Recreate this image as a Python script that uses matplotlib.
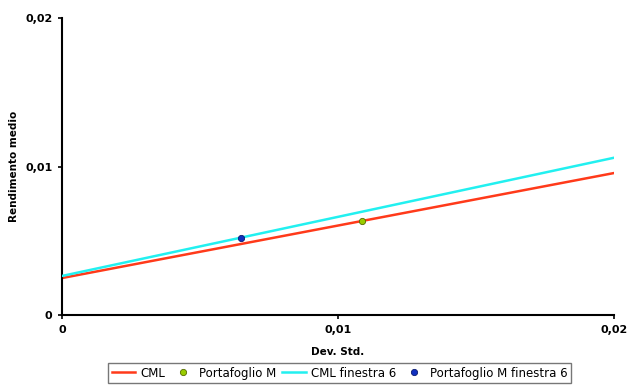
import matplotlib
matplotlib.use("Agg")
import matplotlib.pyplot as plt

# Capital market lines (std dev -> mean return)
cml_x = [0.0, 0.02]
cml_y = [0.00249, 0.00956]
cml6_x = [0.0, 0.02]
cml6_y = [0.00263, 0.01059]

# Tangency portfolios
pm_x, pm_y = [0.01087], [0.00632]
pm6_x, pm6_y = [0.0065], [0.00521]

ticks = [0.0, 0.01, 0.02]
tick_labels = ["0", "0,01", "0,02"]

plt.rcParams['font.family'] = ['DejaVu Sans']
fig = plt.figure(figsize=(6.27, 3.87), dpi=100)
ax = fig.add_axes([0.0989, 0.186, 0.8804, 0.7675])

ax.plot(cml_x, cml_y, color='#ff3a1a', lw=1.8, label='CML', zorder=2)
ax.plot(pm_x, pm_y, 'o', color='#99cc00', mec='#556b00', mew=0.6, ms=4.5,
        label='Portafoglio M', zorder=4)
ax.plot(cml6_x, cml6_y, color='#22f0f0', lw=1.8, label='CML finestra 6', zorder=3)
ax.plot(pm6_x, pm6_y, 'o', color='#1030c0', mec='#0a1a70', mew=0.6, ms=4.5,
        label='Portafoglio M finestra 6', zorder=5)

ax.set_xlim(0, 0.02)
ax.set_ylim(0, 0.02)
ax.set_xticks(ticks)
ax.set_yticks(ticks)
ax.set_xticklabels(tick_labels, fontsize=8, fontweight='bold')
ax.set_yticklabels(tick_labels, fontsize=8, fontweight='bold')
ax.tick_params(direction='out', length=3, width=1.2, pad=4)

for s in ['top', 'right']:
    ax.spines[s].set_visible(False)
for s in ['left', 'bottom']:
    ax.spines[s].set_linewidth(1.5)

ax.set_xlabel('Dev. Std.', fontsize=7.5, fontweight='bold')
ax.xaxis.set_label_coords(0.5, -0.107)
ax.set_ylabel('Rendimento medio', fontsize=7.5, fontweight='bold')
ax.yaxis.set_label_coords(-0.078, 0.5)

leg = fig.legend(loc='center', bbox_to_anchor=(0.542, 0.036), ncol=4,
                 fontsize=8.5, frameon=True, fancybox=False, handlelength=2.0,
                 handletextpad=0.4, columnspacing=0.5, borderpad=0.3,
                 borderaxespad=0.2, edgecolor='#555555')
leg.get_frame().set_linewidth(1.0)

fig.savefig('out.png', dpi=100)
